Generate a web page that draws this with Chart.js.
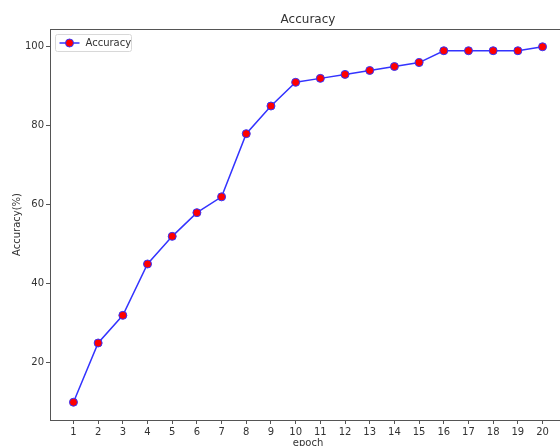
<!DOCTYPE html>
<html>
<head>
<meta charset="utf-8">
<script src="https://cdn.jsdelivr.net/npm/chart.js@4.4.1/dist/chart.umd.min.js"></script>
<style>
  html, body { margin: 0; padding: 0; background: #fff; overflow: hidden; }
  #wrap { position: absolute; left: 0; top: 0; width: 600px; height: 446px; }
</style>
</head>
<body>
<div id="wrap"><canvas id="c" width="600" height="446"></canvas></div>
<script>
// Training accuracy per epoch
const epochs = [1, 2, 3, 4, 5, 6, 7, 8, 9, 10, 11, 12, 13, 14, 15, 16, 17, 18, 19, 20];
const accuracy = [10, 25, 32, 45, 52, 58, 62, 78, 85, 91, 92, 93, 94, 95, 96, 99, 99, 99, 99, 100];
const yTicks = [20, 40, 60, 80, 100];

const chartTitle = 'Accuracy';
const xTitle = 'epoch';
const yTitle = 'Accuracy(%)';
const seriesLabel = 'Accuracy';

const FONT = '"DejaVu Sans", sans-serif';
const TEXT = '#333';
const SPINE = '#555';
const LINE = '#3333ff';
const MARK = '#ff0000';

// Frame, titles and an in-axes legend in the matplotlib style
const decor = {
  id: 'decor',
  afterDraw(chart) {
    const { ctx, chartArea: a } = chart;
    ctx.save();
    ctx.strokeStyle = SPINE;
    ctx.lineWidth = 1;
    ctx.strokeRect(Math.round(a.left) + 0.5, Math.round(a.top) + 0.5,
                   Math.round(a.right - a.left), Math.round(a.bottom - a.top));

    ctx.fillStyle = TEXT;
    ctx.textAlign = 'center';
    ctx.textBaseline = 'alphabetic';
    ctx.font = '12px ' + FONT;
    ctx.fillText(chartTitle, (a.left + a.right) / 2, a.top - 6);

    ctx.font = '10px ' + FONT;
    ctx.textBaseline = 'top';
    ctx.fillText(xTitle, (a.left + a.right) / 2, a.bottom + 18);

    ctx.save();
    ctx.translate(17, (a.top + a.bottom) / 2);
    ctx.rotate(-Math.PI / 2);
    ctx.textBaseline = 'middle';
    ctx.fillText(yTitle, 0, 0);
    ctx.restore();

    // legend box
    const bx = a.left + 5.5, by = a.top + 5.5, bw = 76, bh = 17;
    ctx.fillStyle = 'rgba(255,255,255,0.8)';
    ctx.strokeStyle = '#d8d8d8';
    ctx.beginPath();
    ctx.roundRect(bx, by, bw, bh, 2);
    ctx.fill();
    ctx.stroke();
    const cy = by + bh / 2;
    ctx.strokeStyle = LINE;
    ctx.lineWidth = 1.5;
    ctx.beginPath();
    ctx.moveTo(bx + 4, cy);
    ctx.lineTo(bx + 24, cy);
    ctx.stroke();
    ctx.fillStyle = MARK;
    ctx.lineWidth = 1;
    ctx.beginPath();
    ctx.arc(bx + 14, cy, 4, 0, Math.PI * 2);
    ctx.fill();
    ctx.stroke();
    ctx.fillStyle = TEXT;
    ctx.textAlign = 'left';
    ctx.textBaseline = 'middle';
    ctx.font = '10px ' + FONT;
    ctx.fillText(seriesLabel, bx + 30, cy + 0.5);
    ctx.restore();
  }
};

new Chart(document.getElementById('c'), {
  type: 'line',
  data: {
    datasets: [{
      label: seriesLabel,
      data: epochs.map((e, i) => ({ x: e, y: accuracy[i] })),
      borderColor: LINE,
      borderWidth: 1.5,
      pointBackgroundColor: MARK,
      pointBorderColor: LINE,
      pointBorderWidth: 1,
      pointRadius: 4,
      tension: 0,
      fill: false
    }]
  },
  options: {
    responsive: false,
    animation: false,
    events: [],
    layout: { padding: { top: 29, right: 34, left: 0, bottom: 0 } },
    plugins: { legend: { display: false }, title: { display: false }, tooltip: { enabled: false } },
    scales: {
      x: {
        type: 'linear',
        min: 0.05,
        max: 20.95,
        afterBuildTicks: s => { s.ticks = epochs.map(v => ({ value: v })); },
        afterFit: s => { s.height = 26; },
        grid: { drawOnChartArea: false, drawTicks: true, tickLength: 4, color: SPINE },
        border: { display: true, color: SPINE, width: 1 },
        ticks: { color: TEXT, font: { family: FONT, size: 10 }, padding: 2, maxRotation: 0, autoSkip: false }
      },
      y: {
        min: 5.5,
        max: 104.5,
        afterBuildTicks: s => { s.ticks = yTicks.map(v => ({ value: v })); },
        afterFit: s => { s.width = 50; },
        grid: { drawOnChartArea: false, drawTicks: true, tickLength: 4, color: SPINE },
        border: { display: true, color: SPINE, width: 1 },
        ticks: { color: TEXT, font: { family: FONT, size: 10 }, padding: 2 }
      }
    }
  },
  plugins: [decor]
});
</script>
</body>
</html>
